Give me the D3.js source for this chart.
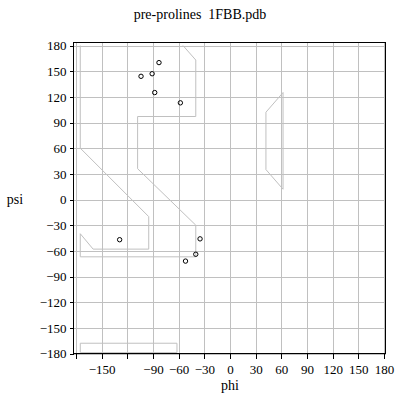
<!DOCTYPE html>
<html><head><meta charset="utf-8">
<script src="https://cdn.jsdelivr.net/npm/d3@7"></script>
<style>
body{margin:0;background:#fff}
text{font-family:"Liberation Serif","Times New Roman",serif}
</style></head>
<body><svg id="c" width="400" height="400"></svg>
<script>
const title = "pre-prolines\u00a0\u00a01FBB.pdb";
const xLabel = "phi", yLabel = "psi";
const tickValues = [-180,-150,-120,-90,-60,-30,0,30,60,90,120,150,180];
const xHiddenLabels = [-180,-120];
// observed residues
const phiValues = [-83,-104,-91,-88,-58,-129,-35,-40,-52];
const psiValues = [160,144,147,125,113,-47,-46,-64,-72];
// allowed-region outlines (phi, psi); main region's top edge lies on psi=180
const regionMain = [[-55,180],[-40,163],[-40,97],[-108,97],[-108,36],[-40,-30],[-40,-67],[-175,-67],[-175,-40],[-160,-58],[-95,-58],[-95,-20],[-175,60],[-175,180]];
const regionLower = [[-175,-168],[-62,-168],[-62,-179],[-175,-179],[-175,-168]];
const regionRight = [[42,102],[62,125],[62,12],[42,35],[42,102]];

const svg = d3.select("#c");
const x = d3.scaleLinear().domain([-180,180]).range([76,384]);
const y = d3.scaleLinear().domain([-180,180]).range([353.5,45.5]);
const L=73.5, R=385.5, T=42.5, B=353.5;
const grey="#c0c0c0";

const g = svg.append("g");
tickValues.forEach(v=>{
  const px=Math.round(x(v))+0.5, py=Math.round(y(v))+0.5;
  g.append("line").attr("x1",px).attr("x2",px).attr("y1",T).attr("y2",B).attr("stroke",grey).attr("shape-rendering","crispEdges");
  g.append("line").attr("y1",py).attr("y2",py).attr("x1",L).attr("x2",R).attr("stroke",grey).attr("shape-rendering","crispEdges");
});

const line = d3.line().x(d=>x(d[0])).y(d=>y(d[1]));
[regionMain,regionLower,regionRight].forEach(r=>{
  svg.append("path").attr("d",line(r)).attr("fill","none").attr("stroke",grey).attr("stroke-width",1);
});

svg.append("rect").attr("x",L).attr("y",T).attr("width",R-L).attr("height",B-T)
  .attr("fill","none").attr("stroke","#000").attr("shape-rendering","crispEdges");

const fmt = v => (v<0?"\u2212":"")+Math.abs(v);
const xa = svg.append("g").attr("transform",`translate(0,${B+0.5})`)
  .call(d3.axisBottom(x).tickValues(tickValues).tickSize(5).tickPadding(6)
    .tickFormat(v=>xHiddenLabels.includes(v)?"":fmt(v)));
const ya = svg.append("g").attr("transform",`translate(${L},0)`)
  .call(d3.axisLeft(y).tickValues(tickValues).tickSize(4).tickPadding(3).tickFormat(fmt));
[xa,ya].forEach(a=>{
  a.select(".domain").remove();
  a.selectAll("text").attr("font-family","Liberation Serif").attr("font-size",13).attr("fill","#000");
  a.selectAll("line").attr("stroke","#000").attr("shape-rendering","crispEdges");
});

svg.selectAll("circle.p").data(phiValues.map((p,i)=>[p,psiValues[i]])).enter()
  .append("circle").attr("class","p").attr("cx",d=>x(d[0])).attr("cy",d=>y(d[1]))
  .attr("r",2.2).attr("fill","none").attr("stroke","#000").attr("stroke-width",1);

svg.append("text").attr("x",200).attr("y",19).attr("text-anchor","middle")
  .attr("font-size",14).text(title);
svg.append("text").attr("x",230).attr("y",390).attr("text-anchor","middle").attr("font-size",14).text(xLabel);
svg.append("text").attr("x",15).attr("y",204).attr("text-anchor","middle").attr("font-size",14).text(yLabel);
</script></body></html>
